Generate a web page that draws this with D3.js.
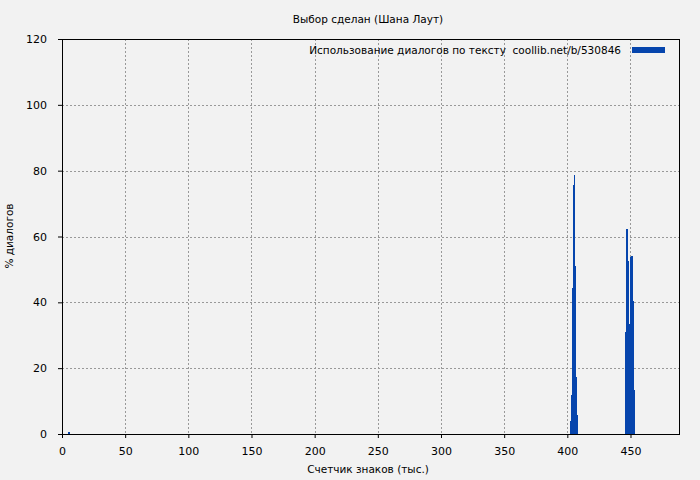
<!DOCTYPE html>
<html>
<head>
<meta charset="utf-8">
<script src="https://cdn.jsdelivr.net/npm/d3@7"></script>
<style>
  body { margin: 0; background: #f2f2f2; }
  text { font-family: "DejaVu Sans", Verdana, sans-serif; font-size: 10.5px; fill: #000; }
</style>
</head>
<body>
<div id="chart"></div>
<script>
// data (position in thousands of chars, % of dialogue)
var barPos = [5, 401.8, 402.6, 403.4, 404.2, 405.0, 405.8, 406.6, 407.4,
              446.0, 446.8, 447.6, 448.4, 449.2, 450.0, 450.8, 451.6, 452.4];
var barVal = [0.6, 4, 12, 44.5, 75.7, 78.7, 51, 17.3, 5.8,
              31, 62.3, 52.6, 33.4, 26.8, 53.7, 54.1, 40.5, 13.5];
var xTicks = [0, 50, 100, 150, 200, 250, 300, 350, 400, 450];
var yTicks = [0, 20, 40, 60, 80, 100, 120];
var binWidth = 0.8;

var titleText = "Выбор сделан (Шана Лаут)";
var legendText = "Использование диалогов по тексту  coollib.net/b/530846";
var xLabel = "Счетчик знаков (тыс.)";
var yLabel = "% диалогов";

// set the dimensions and margins of the graph
var W = 700, H = 480;
var margin = { top: 39, right: 21, bottom: 46, left: 62 },
    width = W - margin.left - margin.right,
    height = H - margin.top - margin.bottom;

var root = d3.select("#chart")
    .append("svg")
    .attr("width", W)
    .attr("height", H);

root.append("rect").attr("width", W).attr("height", H).attr("fill", "#f2f2f2");

var svg = root.append("g")
    .attr("transform", "translate(" + margin.left + "," + margin.top + ")");

var x = d3.scaleLinear().domain([0, 488.4]).range([0, width]);
var y = d3.scaleLinear().domain([0, 120]).range([height, 0]);

// grid lines
svg.append("g").selectAll("line")
    .data(xTicks.filter(function (d) { return d > 0; }))
    .enter().append("line")
    .attr("x1", function (d) { return Math.round(x(d)) + 0.5; })
    .attr("x2", function (d) { return Math.round(x(d)) + 0.5; })
    .attr("y1", 0).attr("y2", height)
    .attr("stroke", "#999").attr("stroke-dasharray", "2,2");

svg.append("g").selectAll("line")
    .data(yTicks.filter(function (d) { return d > 0 && d < 120; }))
    .enter().append("line")
    .attr("y1", function (d) { return Math.round(y(d)) + 0.5; })
    .attr("y2", function (d) { return Math.round(y(d)) + 0.5; })
    .attr("x1", 0).attr("x2", width)
    .attr("stroke", "#999").attr("stroke-dasharray", "2,2");

// bars
svg.append("g").selectAll("rect")
    .data(barPos)
    .enter().append("rect")
    .attr("x", function (d) { return x(d); })
    .attr("width", x(binWidth) - x(0) + 0.2)
    .attr("y", function (d, i) { return y(barVal[i]); })
    .attr("height", function (d, i) { return height - y(barVal[i]); })
    .attr("fill", "#0645ad")
    .attr("shape-rendering", "crispEdges");

// frame
svg.append("rect")
    .attr("x", 0.5).attr("y", 0.5)
    .attr("width", width).attr("height", height)
    .attr("fill", "none").attr("stroke", "#000");

// axes
var xAxis = svg.append("g")
    .attr("transform", "translate(0," + height + ")")
    .call(d3.axisBottom(x).tickValues(xTicks).tickSize(4).tickPadding(9));
var yAxis = svg.append("g")
    .call(d3.axisLeft(y).tickValues(yTicks).tickSize(4).tickPadding(11));
[xAxis, yAxis].forEach(function (a) {
    a.select(".domain").remove();
    a.selectAll("line").attr("stroke", "#000");
    a.selectAll("text").style("font-family", "DejaVu Sans, Verdana, sans-serif").style("font-size", "11px");
});

// title
root.append("text")
    .attr("x", 368).attr("y", 23)
    .attr("text-anchor", "middle")
    .text(titleText);

// legend
root.append("text")
    .attr("x", 621).attr("y", 54)
    .attr("text-anchor", "end")
    .style("white-space", "pre")
    .attr("xml:space", "preserve")
    .text(legendText);
root.append("rect")
    .attr("x", 632).attr("y", 47)
    .attr("width", 33).attr("height", 6)
    .attr("fill", "#0645ad");

// axis titles
root.append("text")
    .attr("x", 368).attr("y", 473)
    .attr("text-anchor", "middle")
    .text(xLabel);
root.append("text")
    .attr("transform", "translate(13,236) rotate(-90)")
    .attr("text-anchor", "middle")
    .text(yLabel);
</script>
</body>
</html>
